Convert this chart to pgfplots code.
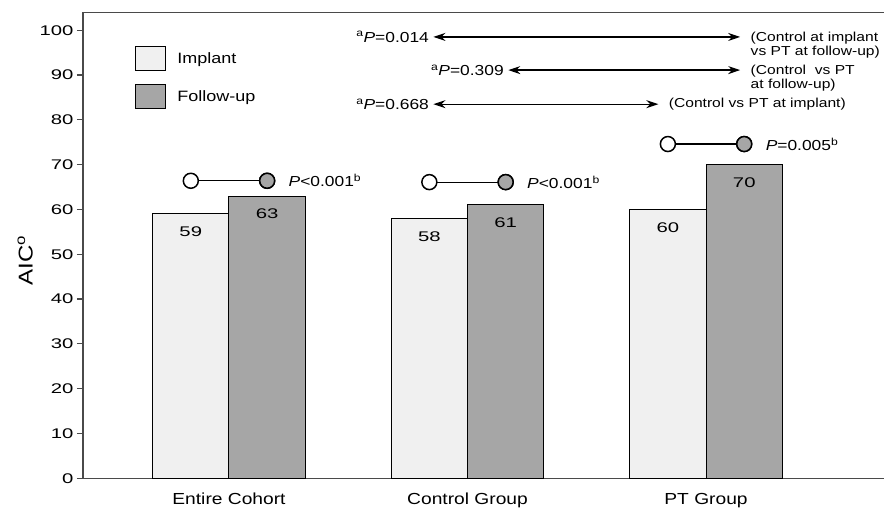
\documentclass[border=0pt]{standalone}
\usepackage{fontspec}
\setmainfont{Liberation Sans}[FakeStretch=1.2]
\newfontfamily\tickfont{Liberation Sans}[FakeStretch=1.45]
\usepackage{pgfplots}
\pgfplotsset{compat=1.18}
\usetikzlibrary{arrows.meta}
\definecolor{implant}{HTML}{F0F0F0}
\definecolor{follow}{HTML}{A6A6A6}
\definecolor{axisgray}{HTML}{4A4A4A}
\newcommand\annfont{\fontsize{13}{14.5}\selectfont}
\newcommand\pfont{\fontsize{14.5}{16}\selectfont}
\tikzset{dblarrow/.style={{Stealth[length=12pt,width=8pt]}-{Stealth[length=12pt,width=8pt]}, line width=1.3pt, black}}
\begin{document}
\begin{tikzpicture}
\begin{axis}[
 name=ax,
 scale only axis,
 width=801pt, height=466pt,
 xmin=-0.612, xmax=2.746,
 ymin=0, ymax=104,
 axis x line*=bottom, axis y line*=left,
 axis line style={axisgray, line width=1.5pt, -},
 ytick={0,10,...,100},
 xtick={0,1,2},
 xticklabels={Entire Cohort, Control Group, PT Group},
 x tick style={draw=none},
 y tick style={axisgray, line width=1.2pt},
 tick align=outside,
 major tick length=6pt,
 /pgf/number format/assume math mode=true,
 yticklabel style={font=\tickfont\fontsize{14}{14}\selectfont},
 xticklabel style={font=\fontsize{16}{16}\selectfont, yshift=-5pt},
 ylabel={AIC\textsuperscript{o}},
 ylabel style={font=\fontsize{20}{20}\selectfont, at={(ticklabel cs:0.467)}},
 legend style={at={(0.065,0.928)}, anchor=north west, draw=none, fill=none,
   inner sep=0pt, row sep=13pt, font=\fontsize{15}{15}\selectfont, nodes={inner sep=2pt}},
 legend cell align=left,
 every node near coord/.append style={font=\tickfont\fontsize{14}{14}\selectfont, anchor=center, yshift=-18pt},
]
\addplot[ybar, bar width=0.32, bar shift=-0.16, fill=implant, draw=black, line width=1pt,
  nodes near coords, nodes near coords style={xshift=-38.2pt},
  legend image code/.code={\draw[fill=implant,draw=black,line width=1pt] (0pt,-12pt) rectangle (30pt,12pt); \path (39pt,0pt);}]
  coordinates {(0,59) (1,58) (2,60)};
\addlegendentry{Implant}
\addplot[ybar, bar width=0.32, bar shift=0.16, fill=follow, draw=black, line width=1pt,
  nodes near coords, nodes near coords style={xshift=38.2pt},
  legend image code/.code={\draw[fill=follow,draw=black,line width=1pt] (0pt,-12pt) rectangle (30pt,12pt); \path (39pt,0pt);}]
  coordinates {(0,63) (1,61) (2,70)};
\addlegendentry{Follow-up}

% paired comparison markers
\addplot[forget plot, black, line width=1.2pt, mark=*, mark size=7.5pt, mark options={fill=white, draw=black, line width=1.5pt}]
  coordinates {(-0.16,66.4) (0.16,66.4)};
\addplot[forget plot, only marks, mark=*, mark size=7.5pt, mark options={fill=follow, draw=black, line width=1.5pt}]
  coordinates {(0.16,66.4)};
\addplot[forget plot, black, line width=1.2pt, mark=*, mark size=7.5pt, mark options={fill=white, draw=black, line width=1.5pt}]
  coordinates {(0.84,66.1) (1.16,66.1)};
\addplot[forget plot, only marks, mark=*, mark size=7.5pt, mark options={fill=follow, draw=black, line width=1.5pt}]
  coordinates {(1.16,66.1)};
\addplot[forget plot, black, line width=1.2pt, mark=*, mark size=7.5pt, mark options={fill=white, draw=black, line width=1.5pt}]
  coordinates {(1.84,74.6) (2.16,74.6)};
\addplot[forget plot, only marks, mark=*, mark size=7.5pt, mark options={fill=follow, draw=black, line width=1.5pt}]
  coordinates {(2.16,74.6)};

\node[anchor=west, xshift=18pt, font=\pfont] at (axis cs:0.16,66.4) {\textit{P}<0.001\textsuperscript{b}};
\node[anchor=west, xshift=18pt, font=\pfont] at (axis cs:1.16,66.1) {\textit{P}<0.001\textsuperscript{b}};
\node[anchor=west, xshift=18pt, font=\pfont] at (axis cs:2.16,74.6) {\textit{P}=0.005\textsuperscript{b}};

% between-group comparisons
\draw[dblarrow] (axis cs:0.857,98.5) -- (axis cs:2.143,98.5);
\node[anchor=east, xshift=-1pt, font=\pfont] at (axis cs:0.857,98.5) {\textsuperscript{a}\textit{P}=0.014};
\node[anchor=west, align=left, xshift=7pt, yshift=-8pt, font=\annfont] at (axis cs:2.143,98.5) {(Control at implant\\vs PT at follow-up)};

\draw[dblarrow] (axis cs:1.171,91.1) -- (axis cs:2.143,91.1);
\node[anchor=east, xshift=-1pt, font=\pfont] at (axis cs:1.171,91.1) {\textsuperscript{a}\textit{P}=0.309};
\node[anchor=west, align=left, xshift=7pt, yshift=-8pt, font=\annfont] at (axis cs:2.143,91.1) {(Control\ \ vs PT\\at follow-up)};

\draw[dblarrow] (axis cs:0.857,83.5) -- (axis cs:1.80,83.5);
\node[anchor=east, xshift=-1pt, font=\pfont] at (axis cs:0.857,83.5) {\textsuperscript{a}\textit{P}=0.668};
\node[anchor=west, xshift=7pt, font=\annfont] at (axis cs:1.80,83.5) {(Control vs PT at implant)};

\draw[axisgray, line width=1.5pt] (rel axis cs:0,1) -- (rel axis cs:1,1);
\end{axis}
\pgfresetboundingbox
\path ([xshift=-83pt, yshift=-30.7pt]ax.south west) rectangle ([yshift=12.3pt]ax.north east);
\end{tikzpicture}
\end{document}
